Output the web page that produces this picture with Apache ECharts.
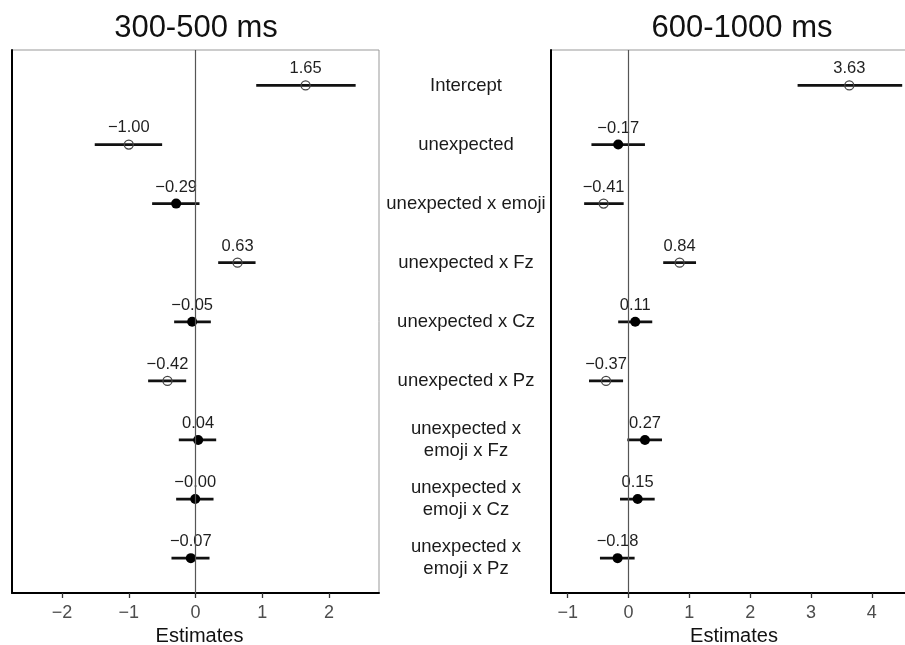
<!DOCTYPE html>
<html>
<head>
<meta charset="utf-8">
<script src="https://cdn.jsdelivr.net/npm/echarts@6/dist/echarts.min.js"></script>
<style>
html,body{margin:0;padding:0;background:#fff;}
#chart{width:905px;height:645px;}
</style>
</head>
<body>
<div id="chart"></div>
<script>
// ---- data ----
const categories = ['Intercept', 'unexpected', 'unexpected x emoji', 'unexpected x Fz', 'unexpected x Cz', 'unexpected x Pz', 'unexpected x\nemoji x Fz', 'unexpected x\nemoji x Cz', 'unexpected x\nemoji x Pz'];
const rowPos = [1, 2, 3, 4, 5, 6, 7, 8, 9];
const titles = ['300-500 ms', '600-1000 ms'];
const axisTitle = 'Estimates';

// 300-500 ms
const estA = [1.65, -1.00, -0.29, 0.63, -0.05, -0.42, 0.04, -0.004, -0.07];
const loA  = [0.91, -1.51, -0.65, 0.34, -0.32, -0.71, -0.25, -0.29, -0.36];
const hiA  = [2.40, -0.50, 0.06, 0.90, 0.23, -0.14, 0.31, 0.27, 0.21];
const sigA = [true, true, false, true, false, true, false, false, false];
const ticksA = [-2, -1, 0, 1, 2];

// 600-1000 ms
const estB = [3.63, -0.17, -0.41, 0.84, 0.11, -0.37, 0.27, 0.15, -0.18];
const loB  = [2.78, -0.61, -0.73, 0.57, -0.17, -0.65, -0.02, -0.14, -0.47];
const hiB  = [4.50, 0.27, -0.08, 1.11, 0.39, -0.09, 0.55, 0.43, 0.10];
const sigB = [true, false, true, true, false, true, false, false, false];
const ticksB = [-1, 0, 1, 2, 3, 4];

// ---- build ----
const FONT = '"Liberation Sans", Arial, Helvetica, sans-serif';
const fmt = v => v.toFixed(2).replace('-', '\u2212');

function panelSeries(idx, est, lo, hi, sig) {
  const bars = rowPos.map((y, i) => [lo[i], hi[i], y]);
  const open = [], filled = [];
  rowPos.forEach((y, i) => { (sig[i] ? open : filled).push([est[i], y]); });
  const lbl = {
    show: true, position: 'top', distance: 3,
    formatter: p => fmt(p.value[0]),
    color: '#1f1f1f', fontSize: 16.5, fontFamily: FONT
  };
  return [
    {
      type: 'line', xAxisIndex: idx, yAxisIndex: idx, data: [], silent: true, z: 1,
      markLine: {
        silent: true, symbol: ['none', 'none'], label: { show: false },
        lineStyle: { color: '#555', width: 1.2, type: 'solid' },
        emphasis: { disabled: true },
        data: [{ xAxis: 0 }], animation: false
      }
    },
    {
      type: 'custom', xAxisIndex: idx, yAxisIndex: idx, z: 2, silent: true,
      encode: { x: [0, 1], y: 2 },
      data: bars,
      renderItem: (params, api) => {
        const y = api.value(2);
        const p1 = api.coord([api.value(0), y]);
        const p2 = api.coord([api.value(1), y]);
        return { type: 'line', shape: { x1: p1[0], y1: p1[1], x2: p2[0], y2: p2[1] },
                 style: { stroke: '#111', lineWidth: 2.8 } };
      }
    },
    {
      type: 'scatter', xAxisIndex: idx, yAxisIndex: idx, z: 3, silent: true,
      data: filled, symbol: 'circle', symbolSize: 10,
      itemStyle: { color: '#000', opacity: 1 },
      label: lbl
    },
    {
      type: 'scatter', xAxisIndex: idx, yAxisIndex: idx, z: 3, silent: true,
      data: open, symbol: 'circle', symbolSize: 9,
      itemStyle: { color: 'rgba(0,0,0,0)', borderColor: '#444', borderWidth: 1.3, opacity: 1 },
      label: lbl
    }
  ];
}

function xAxisDef(idx, min, max, ticks, nameShift) {
  return {
    type: 'value', gridIndex: idx, min: min, max: max,
    splitLine: { show: false },
    axisLine: { show: true, onZero: false, lineStyle: { color: '#000', width: 2 } },
    axisTick: { show: true, length: 5, customValues: ticks, lineStyle: { color: '#333', width: 1.3 } },
    axisLabel: { show: true, customValues: ticks, margin: 11, color: '#4d4d4d', fontSize: 18, fontFamily: FONT,
                 formatter: v => String(v).replace('-', '\u2212') },
    name: axisTitle, nameLocation: 'middle', nameGap: 33,
    nameTextStyle: { color: '#111', fontSize: 20, fontFamily: FONT, padding: nameShift }
  };
}

const option = {
  animation: false,
  backgroundColor: '#fff',
  title: [
    { text: titles[0], left: 196, top: 13, textAlign: 'center', padding: 0,
      textStyle: { fontSize: 31, fontWeight: 'normal', color: '#111', fontFamily: FONT } },
    { text: titles[1], left: 742, top: 13, textAlign: 'center', padding: 0,
      textStyle: { fontSize: 31, fontWeight: 'normal', color: '#111', fontFamily: FONT } }
  ],
  grid: [
    { left: 12, top: 50, width: 367, height: 543, show: true, borderColor: '#999', borderWidth: 1,
      backgroundColor: 'transparent', containLabel: false, outerBoundsMode: 'none' },
    { left: 551, top: 50, width: 374, height: 543, show: true, borderColor: '#999', borderWidth: 1,
      backgroundColor: 'transparent', containLabel: false, outerBoundsMode: 'none' }
  ],
  xAxis: [
    xAxisDef(0, -2.75, 2.75, ticksA, [0, 0, 0, 8]),
    xAxisDef(1, -1.275, 4.875, ticksB, [0, 8, 0, 0])
  ],
  yAxis: [
    { type: 'value', gridIndex: 0, min: 0.4, max: 9.59, inverse: true,
      splitLine: { show: false },
      axisLine: { show: true, onZero: false, lineStyle: { color: '#000', width: 2 } },
      axisTick: { show: false }, axisLabel: { show: false } },
    { type: 'value', gridIndex: 1, min: 0.4, max: 9.59, inverse: true,
      splitLine: { show: false },
      axisLine: { show: true, onZero: false, lineStyle: { color: '#000', width: 2 } },
      axisTick: { show: false },
      axisLabel: { show: true, customValues: rowPos, margin: 85, align: 'center',
                   color: '#1a1a1a', fontSize: 18.5, lineHeight: 22, fontFamily: FONT,
                   formatter: v => categories[Math.round(v) - 1] } }
  ],
  series: [].concat(
    panelSeries(0, estA, loA, hiA, sigA),
    panelSeries(1, estB, loB, hiB, sigB)
  )
};

const chart = echarts.init(document.getElementById('chart'), null, { renderer: 'canvas' });
chart.setOption(option);
</script>
</body>
</html>
